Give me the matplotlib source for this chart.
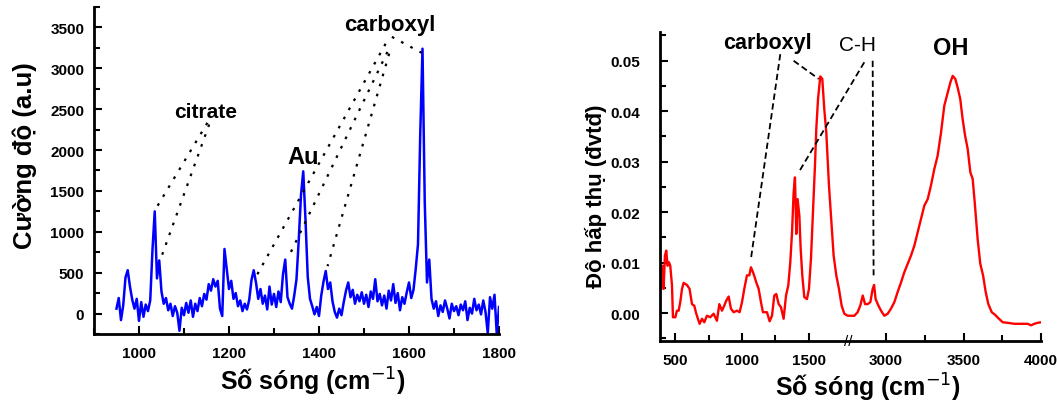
import numpy as np
import matplotlib
matplotlib.use("Agg")
import matplotlib.pyplot as plt
from matplotlib.ticker import FixedLocator, MultipleLocator, FormatStrFormatter

plt.rcParams["font.family"] = ["Liberation Sans", "DejaVu Sans"]

# Raman spectrum (left), 5 cm-1 steps from 950 to 1800
raman_shift = np.arange(950, 1801, 5)
raman_intensity = [
    60, 190, -80, 100, 440, 530, 330, 170, 60, 180,
    -90, 140, -40, 110, 30, 160, 780, 1250, 430, 650,
    270, 120, 190, 40, 120, -30, 90, 10, -210, 70,
    -20, 130, 10, 160, -40, 120, 30, 190, 90, 240,
    170, 360, 280, 420, 330, 400, 60, -30, 790, 550,
    300, 400, 180, 250, 90, 160, 30, 120, 50, 170,
    410, 530, 380, 180, 300, 120, 220, 50, 330, 110,
    240, 80, 270, 140, 480, 660, 200, 120, 60, 220,
    420, 900, 1450, 1740, 1150, 450, 180, 90, -10, 80,
    -30, 220, 390, 520, 300, 380, 150, 20, -50, 60,
    -20, 140, 280, 380, 200, 290, 120, 230, 150, 260,
    120, 230, 80, 270, 180, 420, 150, 240, 100, 220,
    60, 280, 160, 360, 130, 250, 40, 200, 120, 260,
    380, 190, 290, 550, 850, 2200, 3240, 1360, 380, 660,
    180, 60, 150, -30, 100, 20, 160, 60, -60, 120,
    30, 90, -20, 110, 40, 150, -80, 70, 0, 180,
    40, 110, -10, 160, 20, -240, 200, 60, 230, -250,
    80,
]

# IR spectrum (right)
ir_wavenumber = [
    392, 402, 412, 422, 432, 442, 452, 462, 475, 482, 500, 512, 525, 537, 550,
    562, 587, 607, 625, 642, 657, 682, 700, 717, 737, 762, 787, 812, 830, 850,
    867, 882, 900, 917, 937, 962, 982, 1000, 1017, 1037, 1055, 1067, 1087, 1107,
    1125, 1142, 1157, 1187, 1207, 1225, 1242, 1257, 1275, 1292, 1312, 1330, 1347,
    1362, 1375, 1387, 1397, 1407, 1417, 1430, 1440, 1452, 1467, 1487, 1502, 1517,
    1532, 1547, 1557, 1570, 1587, 1602, 1617, 1632, 1652, 1667, 1687, 1707, 1727,
    1747, 1767, 1792,
    2796, 2817, 2834, 2850, 2865, 2882, 2899, 2914, 2923, 2933, 2951, 2968, 2989,
    3011, 3032, 3054, 3075, 3097, 3118, 3140, 3161, 3183, 3204, 3226, 3247, 3269,
    3290, 3312, 3333, 3355, 3376, 3398, 3415, 3430, 3447, 3462, 3479, 3494, 3510,
    3527, 3544, 3559, 3574, 3591, 3608, 3626, 3643, 3660, 3682, 3703, 3725, 3753,
    3785, 3828, 3871, 3914, 3935, 3957, 3978, 4000,
]
ir_absorbance = [
    0.0048, 0.0094, 0.0048, 0.0114, 0.0124, 0.0094, 0.0101, 0.0094, 0.0055,
    -0.0008, -0.0008, 0.0005, 0.0005, 0.0022, 0.0048, 0.0060, 0.0056, 0.0048,
    0.0018, 0.0015, -0.0001, -0.0021, -0.0011, -0.0018, -0.0005, -0.0008,
    -0.0001, -0.0015, 0.0018, 0.0005, 0.0015, 0.0025, 0.0033, 0.0009, 0.0002,
    0.0005, 0.0002, 0.0022, 0.0048, 0.0075, 0.0075, 0.0091, 0.0078, 0.0061,
    0.0048, 0.0022, 0.0002, 0.0002, -0.0016, -0.0005, 0.0035, 0.0038, 0.0018,
    0.0012, -0.0011, 0.0035, 0.0055, 0.0101, 0.0160, 0.0239, 0.0269, 0.0157,
    0.0226, 0.0193, 0.0127, 0.0075, 0.0032, 0.0028, 0.0048, 0.0108, 0.0200,
    0.0292, 0.0365, 0.0424, 0.0469, 0.0464, 0.0404, 0.0358, 0.0253, 0.0193,
    0.0114, 0.0075, 0.0048, 0.0015, -0.0001, -0.0005,
    -0.0005, 0.0002, 0.0015, 0.0035, 0.0018, 0.0018, 0.0022, 0.0048, 0.0056,
    0.0028, 0.0015, 0.0005, -0.0005, -0.0001, 0.0009, 0.0022, 0.0042, 0.0061,
    0.0081, 0.0098, 0.0114, 0.0134, 0.0160, 0.0187, 0.0213, 0.0226, 0.0253,
    0.0286, 0.0312, 0.0358, 0.0411, 0.0437, 0.0457, 0.0470, 0.0464, 0.0447,
    0.0424, 0.0385, 0.0352, 0.0325, 0.0279, 0.0266, 0.0213, 0.0147, 0.0098,
    0.0075, 0.0042, 0.0018, 0.0002, -0.0003, -0.0010, -0.0018, -0.0019,
    -0.0021, -0.0021, -0.0021, -0.0024, -0.0021, -0.0019, -0.0018,
]

# broken x axis of the IR panel: 1800 -> 2760 is cut out
W_BRK = [0, 1800, 2760, 5000]
U_BRK = [0, 240.0, 240.1, 240.1 + 2240 * 0.155]


def fwd(w):
    return np.interp(w, W_BRK, U_BRK)


def inv(u):
    return np.interp(u, U_BRK, W_BRK)


def style_axes(ax):
    ax.spines["top"].set_visible(False)
    ax.spines["right"].set_visible(False)
    for s in ("left", "bottom"):
        ax.spines[s].set_linewidth(2)
    ax.tick_params(which="both", direction="in", top=False, right=False, width=1.5)
    ax.tick_params(which="major", length=6)
    ax.tick_params(which="minor", length=4)
    for lab in ax.get_xticklabels() + ax.get_yticklabels():
        lab.set_fontweight("bold")
        lab.set_fontsize(11)


fig = plt.figure(figsize=(10.57, 4.02), dpi=100)

# ---- left: Raman
ax1 = fig.add_axes([0.0889, 0.1667, 0.3832, 0.8134])
ax1.plot(raman_shift, raman_intensity, color="#0000ff", lw=1.8)
ax1.set_xlim(900, 1800)
ax1.set_ylim(-250, 3750)
ax1.xaxis.set_major_locator(MultipleLocator(200))
ax1.xaxis.set_minor_locator(MultipleLocator(100))
ax1.yaxis.set_major_locator(MultipleLocator(500))
ax1.yaxis.set_minor_locator(MultipleLocator(250))
style_axes(ax1)
ax1.tick_params(axis="y", pad=7)
ax1.tick_params(axis="x", pad=9)
ax1.set_xlabel("Số sóng (cm$^{-1}$)", fontsize=18, fontweight="bold")
ax1.set_ylabel("Cường độ (a.u)", fontsize=18.5, fontweight="bold")
ax1.xaxis.set_label_coords(0.541, -0.144)
ax1.xaxis.label.set_va("center")
ax1.yaxis.set_label_coords(-0.170, 0.547)
ax1.yaxis.label.set_va("center")

dot = dict(color="black", lw=1.6, ls=(0, (1.2, 3.5)))
ax1.plot([1152, 1035], [2333, 1260], **dot)
ax1.plot([1156, 1047], [2313, 650], **dot)
ax1.plot([1548, 1263], [3300, 480], **dot)
ax1.plot([1552, 1333], [3200, 700], **dot)
ax1.plot([1556, 1419], [3180, 580], **dot)
ax1.plot([1562, 1628], [3385, 3190], **dot)
ax1.text(1148, 2470, "citrate", fontsize=15, fontweight="bold", ha="center", va="center")
ax1.text(1365, 1923, "Au", fontsize=17, fontweight="bold", ha="center", va="center")
ax1.text(1558, 3540, "carboxyl", fontsize=16, fontweight="bold", ha="center", va="center")

# ---- right: IR
ax2 = fig.add_axes([0.6244, 0.1493, 0.3605, 0.7687])
ax2.set_xscale("function", functions=(fwd, inv))
ax2.plot(ir_wavenumber, ir_absorbance, color="#ff0000", lw=1.7)
ax2.set_xlim(385, 4000)
ax2.set_ylim(-0.0055, 0.0557)
ax2.xaxis.set_major_locator(FixedLocator([500, 1000, 1500, 3000, 3500, 4000]))
ax2.xaxis.set_minor_locator(FixedLocator([750, 1250, 3250, 3750]))
ax2.yaxis.set_major_locator(MultipleLocator(0.01))
ax2.yaxis.set_minor_locator(MultipleLocator(0.005))
ax2.yaxis.set_major_formatter(FormatStrFormatter("%.2f"))
style_axes(ax2)
ax2.tick_params(axis="y", pad=14)
ax2.tick_params(axis="x", pad=9)
ax2.set_xlabel("Số sóng (cm$^{-1}$)", fontsize=18, fontweight="bold")
ax2.set_ylabel("Độ hấp thụ (đvtđ)", fontsize=16, fontweight="bold")
ax2.xaxis.set_label_coords(0.546, -0.149)
ax2.xaxis.label.set_va("center")
ax2.yaxis.set_label_coords(-0.168, 0.472)
ax2.yaxis.label.set_va("center")
ax2.text(1800, 0, "//", transform=ax2.get_xaxis_transform(), fontsize=11,
         ha="center", va="center")

dash = dict(color="black", lw=1.3, ls=(0, (3.5, 2)))
ax2.plot([1287, 1067], [0.0513, 0.0108], **dash)
ax2.plot([1387, 1575], [0.0500, 0.0464], **dash)
ax2.plot([2860, 1425], [0.0497, 0.0279], **dash)
ax2.plot([2914, 2920], [0.0500, 0.0075], **dash)
ax2.text(1190, 0.0536, "carboxyl", fontsize=15.5, fontweight="bold", ha="center", va="center")
ax2.text(2819, 0.0532, "C-H", fontsize=15, ha="center", va="center")
ax2.text(3419, 0.0526, "OH", fontsize=17, fontweight="bold", ha="center", va="center")

fig.savefig("out.png", dpi=100)
